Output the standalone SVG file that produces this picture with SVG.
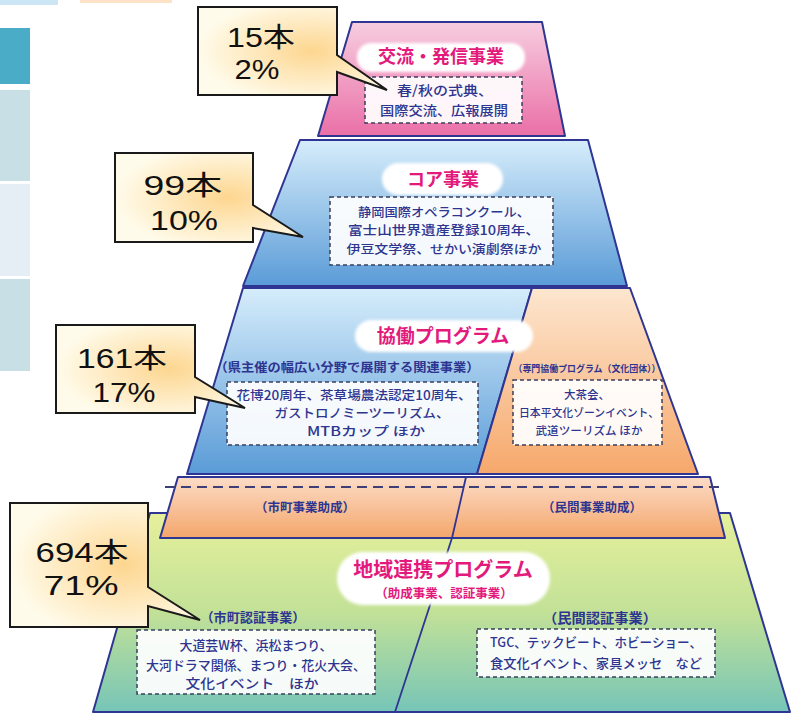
<svg xmlns="http://www.w3.org/2000/svg" width="805" height="715" viewBox="0 0 805 715">
<defs>
<linearGradient id="gPink" x1="0" y1="0" x2="0" y2="1"><stop offset="0" stop-color="#f7cde0"/><stop offset="1" stop-color="#ea6fa7"/></linearGradient>
<linearGradient id="gBlue" x1="0" y1="0" x2="0" y2="1"><stop offset="0" stop-color="#d6edfb"/><stop offset="1" stop-color="#5a9bd7"/></linearGradient>
<linearGradient id="gOrange" x1="0" y1="0" x2="0" y2="1"><stop offset="0" stop-color="#fde6cf"/><stop offset="1" stop-color="#f6a86b"/></linearGradient>
<linearGradient id="gBand" x1="0" y1="0" x2="0" y2="1"><stop offset="0" stop-color="#fcdcc6"/><stop offset="1" stop-color="#f4a66b"/></linearGradient>
<linearGradient id="gGreen" x1="0" y1="0" x2="0" y2="1"><stop offset="0" stop-color="#e6f09b"/><stop offset="0.5" stop-color="#c2e197"/><stop offset="1" stop-color="#76c5b8"/></linearGradient>
<radialGradient id="gCall" cx="0.6" cy="0.5" r="0.6"><stop offset="0" stop-color="#fdd690"/><stop offset="1" stop-color="#fffbea"/></radialGradient>
<filter id="soft" x="-10%" y="-30%" width="120%" height="160%"><feGaussianBlur stdDeviation="1.8"/></filter>
</defs>
<style>
.tier{stroke:#2e3592;stroke-width:2;stroke-linejoin:round}
.div{stroke:#2e3592;stroke-width:1.8;fill:none}
.pill{fill:#ffffff;filter:url(#soft)}
.box{fill:#ffffff;fill-opacity:0.92;stroke:#3a3f5c;stroke-width:1.5;stroke-dasharray:4 3}
.head{font-family:"Noto Sans CJK JP","Noto Sans",sans-serif;font-weight:bold;fill:#e3197c;text-anchor:middle}
.sub{font-family:"Noto Sans CJK JP","Noto Sans",sans-serif;font-weight:bold;fill:#2e3590;text-anchor:middle}
.body{font-family:"Noto Sans CJK JP","Noto Sans",sans-serif;font-weight:500;fill:#2e3590;text-anchor:middle}
.call{fill:url(#gCall);stroke:#1a1a1a;stroke-width:2;stroke-linejoin:miter}
.ct{font-family:"Liberation Sans","Noto Sans CJK JP",sans-serif;font-weight:normal;font-size:27.5px;fill:#111111;text-anchor:middle}
</style>

<g id="side-strips">
<rect x="0" y="0" width="58" height="5" fill="#cce6f5"/>
<rect x="80" y="0" width="92" height="3" fill="#fde2c8"/>
<rect x="0" y="28" width="30" height="56" fill="#4aacc6"/>
<rect x="0" y="90" width="30" height="91" fill="#c8dfe6"/>
<rect x="0" y="184" width="30" height="92" fill="#e4eef4"/>
<rect x="0" y="279" width="30" height="92" fill="#c8dfe6"/>
</g>

<g id="tier-regional">
<path class="tier" d="M150,513 L730,513 L790,712 L93,712 Z" fill="url(#gGreen)"/>
<line class="div" x1="452" y1="538" x2="395" y2="712"/>
<rect class="pill" x="337" y="552" width="213" height="53" rx="26"/>
<text class="head" x="443" y="577" font-size="20">地域連携プログラム</text>
<text class="head" x="444" y="598" font-size="12.5">（助成事業、認証事業）</text>
<text class="sub" x="253" y="621.5" font-size="13" textLength="105" lengthAdjust="spacingAndGlyphs">（市町認証事業）</text>
<rect class="box" x="137" y="630" width="238" height="64"/>
<text class="body" x="256" y="649.5" font-size="13" textLength="153" lengthAdjust="spacingAndGlyphs">大道芸W杯、浜松まつり、</text>
<text class="body" x="256" y="669.5" font-size="13" textLength="220" lengthAdjust="spacingAndGlyphs">大河ドラマ関係、まつり・花火大会、</text>
<text class="body" x="252" y="687.5" font-size="13" textLength="133" lengthAdjust="spacingAndGlyphs">文化イベント　ほか</text>
<text class="sub" x="600" y="622.5" font-size="13.5" textLength="114" lengthAdjust="spacingAndGlyphs">（民間認証事業）</text>
<rect class="box" x="477" y="629" width="238" height="48"/>
<text class="body" x="596" y="647" font-size="13" textLength="212" lengthAdjust="spacingAndGlyphs">TGC、テックビート、ホビーショー、</text>
<text class="body" x="596" y="668" font-size="13" textLength="212" lengthAdjust="spacingAndGlyphs">食文化イベント、家具メッセ　など</text>
</g>

<g id="tier-grants">
<path class="tier" d="M178,477 L710,477 L725,538 L160,538 Z" fill="url(#gBand)"/>
<line class="div" x1="466" y1="477" x2="452" y2="538"/>
<line x1="165" y1="487" x2="720" y2="487" stroke="#3d3f7a" stroke-width="2" stroke-dasharray="10 6"/>
<text class="sub" x="305" y="511.5" font-size="12.5" textLength="100" lengthAdjust="spacingAndGlyphs">（市町事業助成）</text>
<text class="sub" x="592" y="511.5" font-size="12.5" textLength="100" lengthAdjust="spacingAndGlyphs">（民間事業助成）</text>
</g>

<g id="tier-collab">
<path class="tier" d="M243,288 L532,288 L477,474 L187,474 Z" fill="url(#gBlue)"/>
<path class="tier" d="M532,288 L630,288 L698,474 L477,474 Z" fill="url(#gOrange)"/>
<rect class="pill" x="355" y="320" width="178" height="32" rx="16"/>
<text class="head" x="443" y="343" font-size="19">協働プログラム</text>
<text class="sub" x="347" y="371.5" font-size="12.5" textLength="265" lengthAdjust="spacingAndGlyphs">（県主催の幅広い分野で展開する関連事業）</text>
<rect class="box" x="227" y="382" width="251" height="63"/>
<text class="body" x="354" y="399.5" font-size="12.5" textLength="235" lengthAdjust="spacingAndGlyphs">花博20周年、茶草場農法認定10周年、</text>
<text class="body" x="362" y="417.5" font-size="12.5" textLength="175" lengthAdjust="spacingAndGlyphs">ガストロノミーツーリズム、</text>
<text class="body" x="366" y="435.5" font-size="12.5" textLength="118" lengthAdjust="spacingAndGlyphs">MTBカップ ほか</text>
<text class="sub" x="587" y="371.5" font-size="9.5" textLength="147" lengthAdjust="spacingAndGlyphs">（専門協働プログラム（文化団体））</text>
<rect class="box" x="513" y="380" width="149" height="65"/>
<text class="body" x="587" y="399" font-size="11.5">大茶会、</text>
<text class="body" x="589" y="417" font-size="11" textLength="140" lengthAdjust="spacingAndGlyphs">日本平文化ゾーンイベント、</text>
<text class="body" x="589" y="435" font-size="11" textLength="107" lengthAdjust="spacingAndGlyphs">武道ツーリズム ほか</text>
</g>

<g id="tier-core">
<path class="tier" d="M300,140 L588,140 L627,286 L243,286 Z" fill="url(#gBlue)"/>
<rect class="pill" x="382" y="163" width="121" height="32" rx="16"/>
<text class="head" x="443" y="186" font-size="18">コア事業</text>
<rect class="box" x="330" y="197" width="223" height="68"/>
<text class="body" x="444" y="216.5" font-size="12.5" textLength="172" lengthAdjust="spacingAndGlyphs">静岡国際オペラコンクール、</text>
<text class="body" x="444" y="235" font-size="12.5" textLength="192" lengthAdjust="spacingAndGlyphs">富士山世界遺産登録10周年、</text>
<text class="body" x="444" y="253.5" font-size="12.5" textLength="195" lengthAdjust="spacingAndGlyphs">伊豆文学祭、せかい演劇祭ほか</text>
</g>

<g id="tier-exchange">
<path class="tier" d="M352,22 L542,22 L565,136 L318,136 Z" fill="url(#gPink)"/>
<rect class="pill" x="357" y="43" width="168" height="29" rx="14"/>
<text class="head" x="441" y="63" font-size="18">交流・発信事業</text>
<rect class="box" x="365" y="77" width="157" height="46"/>
<text class="body" x="445" y="94.5" font-size="13" textLength="96" lengthAdjust="spacingAndGlyphs">春/秋の式典、</text>
<text class="body" x="444" y="114.5" font-size="13" textLength="128" lengthAdjust="spacingAndGlyphs">国際交流、広報展開</text>
</g>

<g id="callout-1">
<path class="call" d="M198,7 H337 V55 L387,90 L337,72 V95 H198 Z"/>
<text class="ct" x="261" y="47" textLength="68" lengthAdjust="spacingAndGlyphs">15本</text>
<text class="ct" x="257" y="79" textLength="45" lengthAdjust="spacingAndGlyphs">2%</text>
</g>
<g id="callout-2">
<path class="call" d="M115,153 H253 V205 L303,237 L253,228 V242 H115 Z"/>
<text class="ct" x="183" y="195" textLength="79" lengthAdjust="spacingAndGlyphs">99本</text>
<text class="ct" x="184" y="230" textLength="68" lengthAdjust="spacingAndGlyphs">10%</text>
</g>
<g id="callout-3">
<path class="call" d="M56,325 H195 V377 L245,408 L195,397 V413 H56 Z"/>
<text class="ct" x="122" y="368" textLength="90" lengthAdjust="spacingAndGlyphs">161本</text>
<text class="ct" x="124" y="402" textLength="63" lengthAdjust="spacingAndGlyphs">17%</text>
</g>
<g id="callout-4">
<path class="call" d="M10,503 H148 V587 L200,620 L148,606 V627 H10 Z"/>
<text class="ct" x="82" y="562" textLength="93" lengthAdjust="spacingAndGlyphs">694本</text>
<text class="ct" x="81" y="595" textLength="75" lengthAdjust="spacingAndGlyphs">71%</text>
</g>
</svg>
